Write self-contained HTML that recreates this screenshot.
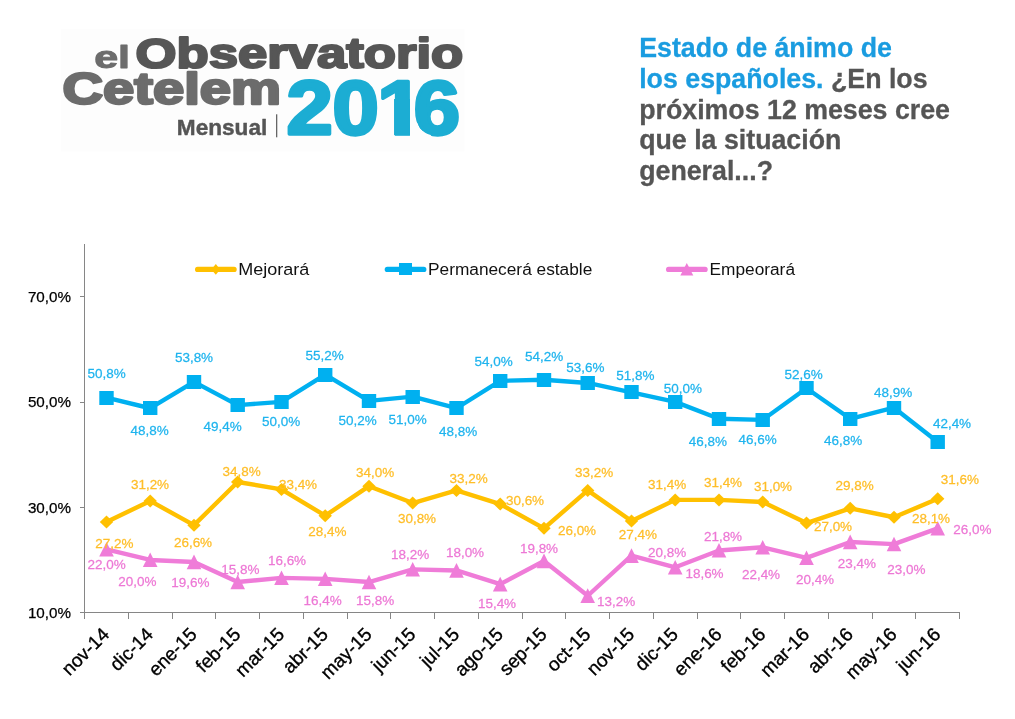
<!DOCTYPE html>
<html lang="es">
<head>
<meta charset="utf-8">
<title>El Observatorio Cetelem 2016 Mensual – Estado de ánimo de los españoles</title>
<style>
html,body{margin:0;padding:0;background:#fff;}
body{width:1015px;height:719px;overflow:hidden;position:relative;font-family:"Liberation Sans",sans-serif;}
svg{position:absolute;left:0;top:0;display:block;}
text{font-family:"Liberation Sans",sans-serif;}
.logo text{font-weight:bold;}
.ttl{font-weight:bold;font-size:26.75px;stroke-width:0.3px;}
.ax{font-size:15.2px;fill:#000;stroke:#000;stroke-width:0.25px;}
.mx{font-size:19px;fill:#000;stroke:#000;stroke-width:0.35px;}
.lg{font-size:17.3px;fill:#111;}
.dl{font-size:13.7px;text-anchor:middle;stroke-width:0.25px;}
</style>
</head>
<body>
<svg width="1015" height="719" viewBox="0 0 1015 719">
<g class="logo">
<rect x="61" y="29" width="403.5" height="122.5" fill="#fdfdfd"/>
<text transform="matrix(1.3469 0 0 1.0000 94.13 68.00)" font-size="32" fill="#6c6c6c" stroke="#6c6c6c" stroke-width="1.00" stroke-linejoin="round">el</text>
<text transform="matrix(1.2540 0 0 1.0127 135.53 67.72)" font-size="42" fill="#565656" stroke="#565656" stroke-width="2.20" stroke-linejoin="round">Observatorio</text>
<text transform="matrix(1.3070 0 0 1.0118 62.41 103.71)" font-size="43" fill="#6c6c6c" stroke="#6c6c6c" stroke-width="2.40" stroke-linejoin="round">Cetelem</text>
<text transform="matrix(1.0774 0 0 1.0220 176.80 135.10)" font-size="21" fill="#555555" stroke="#555555" stroke-width="0.40" stroke-linejoin="round">Mensual</text>
<rect x="276" y="114.3" width="1.3" height="23" fill="#666"/>
<clipPath id="one"><path d="M280 70 H470 V145 H436 L430.60 135.0 L427.60 134.0 L425.60 133.0 L424.10 132.0 L422.85 131.0 L421.85 130.0 L420.85 129.0 L420.10 128.0 L419.35 127.0 L418.85 126.0 L418.35 125.0 L417.85 124.0 L417.85 123.60 H409.96 V145 H394.94 V123.60 H379 V145 H280z"/></clipPath>
<g clip-path="url(#one)"><text x="254.77 295.47 335.39 367.69" transform="matrix(1.1250 0 0 1.0180 0 133.72)" font-size="74" fill="#1CADD3" stroke="#1CADD3" stroke-width="3.2" stroke-linejoin="round">2016</text></g>
<rect x="394.04" y="99" width="15.92" height="36.15" fill="#1CADD3"/>
</g>
<g class="ttl">
<text x="639.2" y="57.3" fill="#1A9CE0" stroke="#1A9CE0">Estado de ánimo de</text>
<text x="639.2" y="88.3" fill="#1A9CE0" stroke="#1A9CE0">los españoles. <tspan fill="#555" stroke="#555">¿En los</tspan></text>
<text x="639.2" y="118.8" fill="#555" stroke="#555">próximos 12 meses cree</text>
<text x="639.2" y="149.4" fill="#555" stroke="#555">que la situación</text>
<text x="639.2" y="180" fill="#555" stroke="#555">general...?</text>
</g>
<g shape-rendering="crispEdges" fill="#868686"><rect x="84" y="244" width="1" height="369"/><rect x="80" y="612" width="880" height="1"/><rect x="80" y="296" width="5" height="1"/><rect x="80" y="402" width="5" height="1"/><rect x="80" y="507" width="5" height="1"/><rect x="84" y="612" width="1" height="7"/><rect x="128" y="612" width="1" height="7"/><rect x="172" y="612" width="1" height="7"/><rect x="215" y="612" width="1" height="7"/><rect x="259" y="612" width="1" height="7"/><rect x="303" y="612" width="1" height="7"/><rect x="347" y="612" width="1" height="7"/><rect x="390" y="612" width="1" height="7"/><rect x="434" y="612" width="1" height="7"/><rect x="478" y="612" width="1" height="7"/><rect x="522" y="612" width="1" height="7"/><rect x="565" y="612" width="1" height="7"/><rect x="609" y="612" width="1" height="7"/><rect x="653" y="612" width="1" height="7"/><rect x="697" y="612" width="1" height="7"/><rect x="740" y="612" width="1" height="7"/><rect x="784" y="612" width="1" height="7"/><rect x="828" y="612" width="1" height="7"/><rect x="872" y="612" width="1" height="7"/><rect x="915" y="612" width="1" height="7"/><rect x="959" y="612" width="1" height="7"/></g>
<text class="ax" x="71" y="301.9" text-anchor="end">70,0%</text><text class="ax" x="71" y="407.2" text-anchor="end">50,0%</text><text class="ax" x="71" y="512.6" text-anchor="end">30,0%</text><text class="ax" x="71" y="617.9" text-anchor="end">10,0%</text>
<text class="mx" text-anchor="end" transform="translate(110.5,635.5) rotate(-45)">nov-14</text><text class="mx" text-anchor="end" transform="translate(154.2,635.5) rotate(-45)">dic-14</text><text class="mx" text-anchor="end" transform="translate(198.0,635.5) rotate(-45)">ene-15</text><text class="mx" text-anchor="end" transform="translate(241.7,635.5) rotate(-45)">feb-15</text><text class="mx" text-anchor="end" transform="translate(285.5,635.5) rotate(-45)">mar-15</text><text class="mx" text-anchor="end" transform="translate(329.2,635.5) rotate(-45)">abr-15</text><text class="mx" text-anchor="end" transform="translate(373.0,635.5) rotate(-45)">may-15</text><text class="mx" text-anchor="end" transform="translate(416.7,635.5) rotate(-45)">jun-15</text><text class="mx" text-anchor="end" transform="translate(460.5,635.5) rotate(-45)">jul-15</text><text class="mx" text-anchor="end" transform="translate(504.2,635.5) rotate(-45)">ago-15</text><text class="mx" text-anchor="end" transform="translate(548.0,635.5) rotate(-45)">sep-15</text><text class="mx" text-anchor="end" transform="translate(591.7,635.5) rotate(-45)">oct-15</text><text class="mx" text-anchor="end" transform="translate(635.5,635.5) rotate(-45)">nov-15</text><text class="mx" text-anchor="end" transform="translate(679.2,635.5) rotate(-45)">dic-15</text><text class="mx" text-anchor="end" transform="translate(723.0,635.5) rotate(-45)">ene-16</text><text class="mx" text-anchor="end" transform="translate(766.7,635.5) rotate(-45)">feb-16</text><text class="mx" text-anchor="end" transform="translate(810.5,635.5) rotate(-45)">mar-16</text><text class="mx" text-anchor="end" transform="translate(854.2,635.5) rotate(-45)">abr-16</text><text class="mx" text-anchor="end" transform="translate(898.0,635.5) rotate(-45)">may-16</text><text class="mx" text-anchor="end" transform="translate(941.7,635.5) rotate(-45)">jun-16</text>
<line x1="197.6" y1="269.4" x2="234.1" y2="269.4" stroke="#FFC000" stroke-width="5.2" stroke-linecap="round"/><path d="M215.8 264 l4.4 5.4 l-4.4 5.4 l-4.4 -5.4z" fill="#FFC000"/><text class="lg" transform="translate(238.3 274.7) scale(1.042 1)">Mejorará</text><line x1="387.3" y1="269.4" x2="423.8" y2="269.4" stroke="#00B0F0" stroke-width="5.2" stroke-linecap="round"/><rect x="399.0" y="263" width="13" height="12" fill="#00B0F0"/><text class="lg" transform="translate(428.0 274.7) scale(1.000 1)">Permanecerá estable</text><line x1="668.6" y1="269.4" x2="705.1" y2="269.4" stroke="#EF7CD8" stroke-width="5.2" stroke-linecap="round"/><path d="M686.8 263 l6.5 12.6 h-13z" fill="#EF7CD8"/><text class="lg" transform="translate(709.5 274.7) scale(1.000 1)">Empeorará</text>
<polyline points="106.47,522.01 150.22,500.94 193.97,525.17 237.72,481.98 281.48,489.35 325.23,515.69 368.98,486.19 412.73,503.05 456.48,490.41 500.23,504.10 543.98,528.33 587.73,490.41 631.48,520.95 675.23,499.89 718.98,499.89 762.73,501.99 806.48,523.06 850.23,508.31 893.98,517.27 937.73,498.83" fill="none" stroke="#FFC000" stroke-width="4.4" stroke-linejoin="round" stroke-linecap="round"/><path d="M106.5 515.5 l6.7 6.5 l-6.7 6.5 l-6.7 -6.5z" fill="#FFC000"/><path d="M150.2 494.4 l6.7 6.5 l-6.7 6.5 l-6.7 -6.5z" fill="#FFC000"/><path d="M194.0 518.7 l6.7 6.5 l-6.7 6.5 l-6.7 -6.5z" fill="#FFC000"/><path d="M237.7 475.5 l6.7 6.5 l-6.7 6.5 l-6.7 -6.5z" fill="#FFC000"/><path d="M281.5 482.9 l6.7 6.5 l-6.7 6.5 l-6.7 -6.5z" fill="#FFC000"/><path d="M325.2 509.2 l6.7 6.5 l-6.7 6.5 l-6.7 -6.5z" fill="#FFC000"/><path d="M369.0 479.7 l6.7 6.5 l-6.7 6.5 l-6.7 -6.5z" fill="#FFC000"/><path d="M412.7 496.5 l6.7 6.5 l-6.7 6.5 l-6.7 -6.5z" fill="#FFC000"/><path d="M456.5 483.9 l6.7 6.5 l-6.7 6.5 l-6.7 -6.5z" fill="#FFC000"/><path d="M500.2 497.6 l6.7 6.5 l-6.7 6.5 l-6.7 -6.5z" fill="#FFC000"/><path d="M544.0 521.8 l6.7 6.5 l-6.7 6.5 l-6.7 -6.5z" fill="#FFC000"/><path d="M587.7 483.9 l6.7 6.5 l-6.7 6.5 l-6.7 -6.5z" fill="#FFC000"/><path d="M631.5 514.5 l6.7 6.5 l-6.7 6.5 l-6.7 -6.5z" fill="#FFC000"/><path d="M675.2 493.4 l6.7 6.5 l-6.7 6.5 l-6.7 -6.5z" fill="#FFC000"/><path d="M719.0 493.4 l6.7 6.5 l-6.7 6.5 l-6.7 -6.5z" fill="#FFC000"/><path d="M762.7 495.5 l6.7 6.5 l-6.7 6.5 l-6.7 -6.5z" fill="#FFC000"/><path d="M806.5 516.6 l6.7 6.5 l-6.7 6.5 l-6.7 -6.5z" fill="#FFC000"/><path d="M850.2 501.8 l6.7 6.5 l-6.7 6.5 l-6.7 -6.5z" fill="#FFC000"/><path d="M894.0 510.8 l6.7 6.5 l-6.7 6.5 l-6.7 -6.5z" fill="#FFC000"/><path d="M937.7 492.3 l6.7 6.5 l-6.7 6.5 l-6.7 -6.5z" fill="#FFC000"/>
<polyline points="106.47,397.71 150.22,408.24 193.97,381.91 237.72,405.08 281.48,401.92 325.23,374.53 368.98,400.87 412.73,396.65 456.48,408.24 500.23,380.85 543.98,379.80 587.73,382.96 631.48,392.44 675.23,401.92 718.98,418.77 762.73,419.83 806.48,388.23 850.23,418.77 893.98,407.71 937.73,441.95" fill="none" stroke="#00B0F0" stroke-width="4.4" stroke-linejoin="round" stroke-linecap="round"/><rect x="99.3" y="391.0" width="14.4" height="14" fill="#00B0F0"/><rect x="143.0" y="401.0" width="14.4" height="14" fill="#00B0F0"/><rect x="186.8" y="375.0" width="14.4" height="14" fill="#00B0F0"/><rect x="230.5" y="398.0" width="14.4" height="14" fill="#00B0F0"/><rect x="274.3" y="395.0" width="14.4" height="14" fill="#00B0F0"/><rect x="318.0" y="368.0" width="14.4" height="14" fill="#00B0F0"/><rect x="361.8" y="394.0" width="14.4" height="14" fill="#00B0F0"/><rect x="405.5" y="390.0" width="14.4" height="14" fill="#00B0F0"/><rect x="449.3" y="401.0" width="14.4" height="14" fill="#00B0F0"/><rect x="493.0" y="374.0" width="14.4" height="14" fill="#00B0F0"/><rect x="536.8" y="373.0" width="14.4" height="14" fill="#00B0F0"/><rect x="580.5" y="376.0" width="14.4" height="14" fill="#00B0F0"/><rect x="624.3" y="385.0" width="14.4" height="14" fill="#00B0F0"/><rect x="668.0" y="395.0" width="14.4" height="14" fill="#00B0F0"/><rect x="711.8" y="412.0" width="14.4" height="14" fill="#00B0F0"/><rect x="755.5" y="413.0" width="14.4" height="14" fill="#00B0F0"/><rect x="799.3" y="381.0" width="14.4" height="14" fill="#00B0F0"/><rect x="843.0" y="412.0" width="14.4" height="14" fill="#00B0F0"/><rect x="886.8" y="401.0" width="14.4" height="14" fill="#00B0F0"/><rect x="930.5" y="435.0" width="14.4" height="14" fill="#00B0F0"/>
<polyline points="106.47,549.40 150.22,559.93 193.97,562.04 237.72,582.05 281.48,577.84 325.23,578.89 368.98,582.05 412.73,569.41 456.48,570.46 500.23,584.16 543.98,560.98 587.73,595.75 631.48,555.72 675.23,567.30 718.98,550.45 762.73,547.29 806.48,557.82 850.23,542.02 893.98,544.13 937.73,528.33" fill="none" stroke="#EF7CD8" stroke-width="4.4" stroke-linejoin="round" stroke-linecap="round"/><path d="M106.5 542.0 l7.3 14.6 h-14.6z" fill="#EF7CD8"/><path d="M150.2 552.5 l7.3 14.6 h-14.6z" fill="#EF7CD8"/><path d="M194.0 554.6 l7.3 14.6 h-14.6z" fill="#EF7CD8"/><path d="M237.7 574.7 l7.3 14.6 h-14.6z" fill="#EF7CD8"/><path d="M281.5 570.4 l7.3 14.6 h-14.6z" fill="#EF7CD8"/><path d="M325.2 571.5 l7.3 14.6 h-14.6z" fill="#EF7CD8"/><path d="M369.0 574.7 l7.3 14.6 h-14.6z" fill="#EF7CD8"/><path d="M412.7 562.0 l7.3 14.6 h-14.6z" fill="#EF7CD8"/><path d="M456.5 563.1 l7.3 14.6 h-14.6z" fill="#EF7CD8"/><path d="M500.2 576.8 l7.3 14.6 h-14.6z" fill="#EF7CD8"/><path d="M544.0 553.6 l7.3 14.6 h-14.6z" fill="#EF7CD8"/><path d="M587.7 588.3 l7.3 14.6 h-14.6z" fill="#EF7CD8"/><path d="M631.5 548.3 l7.3 14.6 h-14.6z" fill="#EF7CD8"/><path d="M675.2 559.9 l7.3 14.6 h-14.6z" fill="#EF7CD8"/><path d="M719.0 543.0 l7.3 14.6 h-14.6z" fill="#EF7CD8"/><path d="M762.7 539.9 l7.3 14.6 h-14.6z" fill="#EF7CD8"/><path d="M806.5 550.4 l7.3 14.6 h-14.6z" fill="#EF7CD8"/><path d="M850.2 534.6 l7.3 14.6 h-14.6z" fill="#EF7CD8"/><path d="M894.0 536.7 l7.3 14.6 h-14.6z" fill="#EF7CD8"/><path d="M937.7 520.9 l7.3 14.6 h-14.6z" fill="#EF7CD8"/>
<g class="dl" fill="#FFBE28" stroke="#FFBE28"><text transform="translate(114.3 547.9) scale(0.985 1)">27,2%</text><text transform="translate(150.0 489.4) scale(0.985 1)">31,2%</text><text transform="translate(193.0 546.9) scale(0.985 1)">26,6%</text><text transform="translate(241.7 475.5) scale(0.985 1)">34,8%</text><text transform="translate(298.0 488.5) scale(0.985 1)">33,4%</text><text transform="translate(327.3 535.9) scale(0.985 1)">28,4%</text><text transform="translate(375.1 476.9) scale(0.985 1)">34,0%</text><text transform="translate(417.0 522.9) scale(0.985 1)">30,8%</text><text transform="translate(468.7 482.9) scale(0.985 1)">33,2%</text><text transform="translate(525.0 505.3) scale(0.985 1)">30,6%</text><text transform="translate(577.0 535.0) scale(0.985 1)">26,0%</text><text transform="translate(594.2 477.1) scale(0.985 1)">33,2%</text><text transform="translate(637.9 539.0) scale(0.985 1)">27,4%</text><text transform="translate(667.1 489.1) scale(0.985 1)">31,4%</text><text transform="translate(723.0 487.1) scale(0.985 1)">31,4%</text><text transform="translate(773.0 491.1) scale(0.985 1)">31,0%</text><text transform="translate(833.0 530.6) scale(0.985 1)">27,0%</text><text transform="translate(854.7 490.1) scale(0.985 1)">29,8%</text><text transform="translate(931.0 523.0) scale(0.985 1)">28,1%</text><text transform="translate(959.8 484.1) scale(0.985 1)">31,6%</text></g>
<g class="dl" fill="#1FB4EE" stroke="#1FB4EE"><text transform="translate(106.7 377.8) scale(0.985 1)">50,8%</text><text transform="translate(149.7 435.3) scale(0.985 1)">48,8%</text><text transform="translate(194.0 362.2) scale(0.985 1)">53,8%</text><text transform="translate(222.7 430.8) scale(0.985 1)">49,4%</text><text transform="translate(281.2 425.8) scale(0.985 1)">50,0%</text><text transform="translate(324.7 359.8) scale(0.985 1)">55,2%</text><text transform="translate(357.7 424.8) scale(0.985 1)">50,2%</text><text transform="translate(407.7 424.3) scale(0.985 1)">51,0%</text><text transform="translate(458.2 435.7) scale(0.985 1)">48,8%</text><text transform="translate(493.7 365.5) scale(0.985 1)">54,0%</text><text transform="translate(544.2 360.5) scale(0.985 1)">54,2%</text><text transform="translate(585.4 372.0) scale(0.985 1)">53,6%</text><text transform="translate(635.4 379.5) scale(0.985 1)">51,8%</text><text transform="translate(682.8 392.6) scale(0.985 1)">50,0%</text><text transform="translate(707.8 446.4) scale(0.985 1)">46,8%</text><text transform="translate(757.7 443.9) scale(0.985 1)">46,6%</text><text transform="translate(803.7 378.7) scale(0.985 1)">52,6%</text><text transform="translate(843.2 444.6) scale(0.985 1)">46,8%</text><text transform="translate(893.1 396.7) scale(0.985 1)">48,9%</text><text transform="translate(952.0 428.4) scale(0.985 1)">42,4%</text></g>
<g class="dl" fill="#ED78D5" stroke="#ED78D5"><text transform="translate(106.6 569.4) scale(0.985 1)">22,0%</text><text transform="translate(137.3 585.9) scale(0.985 1)">20,0%</text><text transform="translate(190.4 586.9) scale(0.985 1)">19,6%</text><text transform="translate(240.4 573.9) scale(0.985 1)">15,8%</text><text transform="translate(287.0 564.9) scale(0.985 1)">16,6%</text><text transform="translate(322.6 604.9) scale(0.985 1)">16,4%</text><text transform="translate(375.1 605.4) scale(0.985 1)">15,8%</text><text transform="translate(410.2 558.9) scale(0.985 1)">18,2%</text><text transform="translate(465.0 556.9) scale(0.985 1)">18,0%</text><text transform="translate(497.0 607.9) scale(0.985 1)">15,4%</text><text transform="translate(539.0 553.0) scale(0.985 1)">19,8%</text><text transform="translate(616.2 605.9) scale(0.985 1)">13,2%</text><text transform="translate(667.1 557.0) scale(0.985 1)">20,8%</text><text transform="translate(704.5 577.5) scale(0.985 1)">18,6%</text><text transform="translate(723.0 540.6) scale(0.985 1)">21,8%</text><text transform="translate(761.0 579.0) scale(0.985 1)">22,4%</text><text transform="translate(815.0 583.5) scale(0.985 1)">20,4%</text><text transform="translate(856.9 568.0) scale(0.985 1)">23,4%</text><text transform="translate(906.3 574.0) scale(0.985 1)">23,0%</text><text transform="translate(972.3 533.6) scale(0.985 1)">26,0%</text></g>
</svg>
</body>
</html>
